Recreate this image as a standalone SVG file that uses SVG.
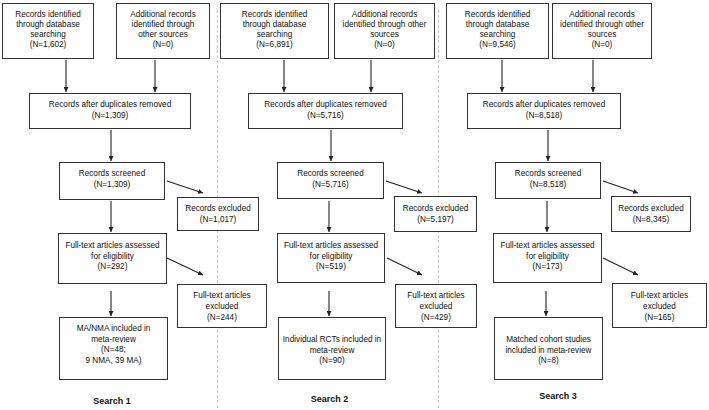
<svg xmlns="http://www.w3.org/2000/svg" width="709" height="410" viewBox="0 0 709 410" text-anchor="middle">
<defs>
<marker id="ah" viewBox="0 0 10 10" refX="10" refY="5" markerWidth="5" markerHeight="5" markerUnits="userSpaceOnUse" orient="auto">
<path d="M0,0 L10,5 L0,10 z" fill="#222"/>
</marker>
<style>
.box{fill:#fff;stroke:#333;stroke-width:1}
text{font-family:"Liberation Sans",Arial,sans-serif;font-size:8.2px;fill:#111;text-anchor:middle}
.hd{font-weight:bold;font-size:9px}
.c line{stroke:#222;stroke-width:1.1;marker-end:url(#ah)}
.div{stroke:#bbb;stroke-width:0.8;stroke-dasharray:3,2}
</style>
</defs>
<rect width="709" height="410" fill="#fff"/>
<g id="dividers">
<line class="div" x1="217.5" y1="10" x2="217.5" y2="410"/>
<line class="div" x1="438.5" y1="10" x2="438.5" y2="410"/>
</g>
<g class="c" id="connectors">
<line x1="66" y1="60" x2="66" y2="92"/>
<line x1="155" y1="60" x2="155" y2="92"/>
<line x1="111" y1="130" x2="111" y2="161"/>
<line x1="167" y1="181" x2="203" y2="193"/>
<line x1="111" y1="201" x2="111" y2="232"/>
<line x1="167" y1="258" x2="203" y2="275"/>
<line x1="111" y1="291" x2="111" y2="316"/>
<line x1="284" y1="60" x2="284" y2="92"/>
<line x1="371" y1="60" x2="371" y2="92"/>
<line x1="331" y1="130" x2="331" y2="161"/>
<line x1="386" y1="181" x2="422" y2="193"/>
<line x1="329" y1="201" x2="329" y2="232"/>
<line x1="387" y1="258" x2="422" y2="275"/>
<line x1="329" y1="291" x2="329" y2="316"/>
<line x1="502" y1="60" x2="502" y2="92"/>
<line x1="593" y1="60" x2="593" y2="92"/>
<line x1="548" y1="130" x2="548" y2="161"/>
<line x1="603" y1="181" x2="638" y2="193"/>
<line x1="547" y1="201" x2="547" y2="232"/>
<line x1="603" y1="258" x2="638" y2="275"/>
<line x1="546" y1="291" x2="546" y2="316"/>
</g>
<!-- Search 1 -->
<g id="s1-identified" text-anchor="middle"><rect class="box" x="2.5" y="3.5" width="91" height="55"/>
<text x="48" y="17">Records identified</text><text x="48" y="27">through database</text><text x="48" y="37">searching</text><text x="48" y="47">(N=1,602)</text></g>
<g id="s1-additional" text-anchor="middle"><rect class="box" x="116.5" y="3.5" width="93" height="55"/>
<text x="163" y="17">Additional records</text><text x="163" y="27">identified through</text><text x="163" y="37">other sources</text><text x="163" y="47">(N=0)</text></g>
<g id="s1-dedup" text-anchor="middle"><rect class="box" x="29.5" y="93.5" width="161" height="35"/>
<text x="110" y="106.5">Records after duplicates removed</text><text x="110" y="118">(N=1,309)</text></g>
<g id="s1-screened" text-anchor="middle"><rect class="box" x="59.5" y="162.5" width="105" height="37"/>
<text x="112" y="176">Records screened</text><text x="112" y="187">(N=1,309)</text></g>
<g id="s1-excluded" text-anchor="middle"><rect class="box" x="177.5" y="197.5" width="81" height="33"/>
<text x="218" y="211">Records excluded</text><text x="218" y="222">(N=1,017)</text></g>
<g id="s1-fulltext" text-anchor="middle"><rect class="box" x="58.5" y="233.5" width="108" height="50"/>
<text x="112.5" y="248">Full-text articles assessed</text><text x="112.5" y="258.5">for eligibility</text><text x="112.5" y="269">(N=292)</text></g>
<g id="s1-ftexcluded" text-anchor="middle"><rect class="box" x="177.5" y="284.5" width="89" height="43"/>
<text x="222" y="298">Full-text articles</text><text x="222" y="309">excluded</text><text x="222" y="320">(N=244)</text></g>
<g id="s1-included" text-anchor="middle"><rect class="box" x="59.5" y="317.5" width="108" height="62"/>
<text x="113.5" y="331">MA/NMA included in</text><text x="113.5" y="341.5">meta-review</text><text x="113.5" y="352">(N=48;</text><text x="113.5" y="362.5">9 NMA, 39 MA)</text></g>
<g id="s1-label" text-anchor="middle"><text class="hd" x="112" y="404">Search 1</text></g>
<!-- Search 2 -->
<g id="s2-identified" text-anchor="middle"><rect class="box" x="220.5" y="3.5" width="108" height="55"/>
<text x="274.5" y="17">Records identified</text><text x="274.5" y="27">through database</text><text x="274.5" y="37">searching</text><text x="274.5" y="47">(N=6,891)</text></g>
<g id="s2-additional" text-anchor="middle"><rect class="box" x="334.5" y="3.5" width="100" height="55"/>
<text x="384.5" y="17">Additional records</text><text x="384.5" y="27">identified through other</text><text x="384.5" y="37">sources</text><text x="384.5" y="47">(N=0)</text></g>
<g id="s2-dedup" text-anchor="middle"><rect class="box" x="248.5" y="93.5" width="154" height="35"/>
<text x="325.5" y="106.5">Records after duplicates removed</text><text x="325.5" y="118">(N=5,716)</text></g>
<g id="s2-screened" text-anchor="middle"><rect class="box" x="277.5" y="162.5" width="106" height="36"/>
<text x="330.5" y="176">Records screened</text><text x="330.5" y="187">(N=5,716)</text></g>
<g id="s2-excluded" text-anchor="middle"><rect class="box" x="394.5" y="196.5" width="82" height="35"/>
<text x="435.5" y="211">Records excluded</text><text x="435.5" y="222">(N=5,197)</text></g>
<g id="s2-fulltext" text-anchor="middle"><rect class="box" x="277.5" y="233.5" width="107" height="49"/>
<text x="331" y="248">Full-text articles assessed</text><text x="331" y="258.5">for eligibility</text><text x="331" y="269">(N=519)</text></g>
<g id="s2-ftexcluded" text-anchor="middle"><rect class="box" x="395.5" y="284.5" width="81" height="43"/>
<text x="436" y="298">Full-text articles</text><text x="436" y="309">excluded</text><text x="436" y="320">(N=429)</text></g>
<g id="s2-included" text-anchor="middle"><rect class="box" x="278.5" y="317.5" width="107" height="62"/>
<text x="332" y="342">Individual RCTs included in</text><text x="332" y="352.5">meta-review</text><text x="332" y="363">(N=90)</text></g>
<g id="s2-label" text-anchor="middle"><text class="hd" x="329.5" y="402">Search 2</text></g>
<!-- Search 3 -->
<g id="s3-identified" text-anchor="middle"><rect class="box" x="446.5" y="3.5" width="102" height="55"/>
<text x="497.5" y="17">Records identified</text><text x="497.5" y="27">through database</text><text x="497.5" y="37">searching</text><text x="497.5" y="47">(N=9,546)</text></g>
<g id="s3-additional" text-anchor="middle"><rect class="box" x="552.5" y="3.5" width="99" height="55"/>
<text x="602" y="17">Additional records</text><text x="602" y="27">identified through other</text><text x="602" y="37">sources</text><text x="602" y="47">(N=0)</text></g>
<g id="s3-dedup" text-anchor="middle"><rect class="box" x="467.5" y="93.5" width="153" height="35"/>
<text x="544" y="106.5">Records after duplicates removed</text><text x="544" y="118">(N=8,518)</text></g>
<g id="s3-screened" text-anchor="middle"><rect class="box" x="495.5" y="162.5" width="105" height="36"/>
<text x="548" y="176">Records screened</text><text x="548" y="187">(N=8,518)</text></g>
<g id="s3-excluded" text-anchor="middle"><rect class="box" x="611.5" y="196.5" width="79" height="35"/>
<text x="651" y="211">Records excluded</text><text x="651" y="222">(N=8,345)</text></g>
<g id="s3-fulltext" text-anchor="middle"><rect class="box" x="493.5" y="233.5" width="108" height="49"/>
<text x="547.5" y="248">Full-text articles assessed</text><text x="547.5" y="258.5">for eligibility</text><text x="547.5" y="269">(N=173)</text></g>
<g id="s3-ftexcluded" text-anchor="middle"><rect class="box" x="612.5" y="283.5" width="94" height="44"/>
<text x="659.5" y="298">Full-text articles</text><text x="659.5" y="309">excluded</text><text x="659.5" y="320">(N=165)</text></g>
<g id="s3-included" text-anchor="middle"><rect class="box" x="494.5" y="317.5" width="108" height="62"/>
<text x="548.5" y="342">Matched cohort studies</text><text x="548.5" y="352.5">included in meta-review</text><text x="548.5" y="363">(N=8)</text></g>
<g id="s3-label" text-anchor="middle"><text class="hd" x="558" y="399">Search 3</text></g>
</svg>
